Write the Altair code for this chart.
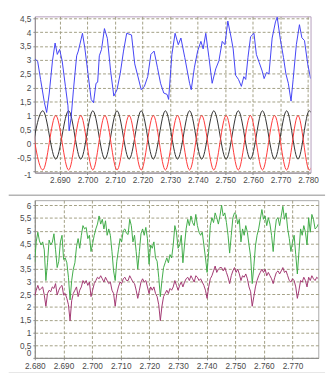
import altair as alt
import pandas as pd

# ---------------- top panel data ----------------
TOP_XTICKS = [2.69, 2.70, 2.71, 2.72, 2.73, 2.74, 2.75, 2.76, 2.77, 2.78]
TOP_YTICKS = [-1, -0.5, 0, 0.5, 1, 1.5, 2, 2.5, 3, 3.5, 4, 4.5]

BLUE_T = [2.68105, 2.68193, 2.68298, 2.68438, 2.68519, 2.68614, 2.68730, 2.68825, 2.68905, 2.68989,
          2.69081, 2.69200, 2.69291, 2.69333, 2.69404, 2.69491, 2.69607, 2.69667, 2.69818, 2.69902,
          2.70018, 2.70134, 2.70218, 2.70309, 2.70369, 2.70429, 2.70509, 2.70615, 2.70720, 2.70836,
          2.70955, 2.71071, 2.71187, 2.71306, 2.71422, 2.71597, 2.71713, 2.71833, 2.71948, 2.72064,
          2.72184, 2.72299, 2.72415, 2.72535, 2.72650, 2.72766, 2.72886, 2.72942, 2.73061, 2.73177,
          2.73293, 2.73388, 2.73528, 2.73703, 2.73763, 2.73879, 2.73995, 2.74114, 2.74195, 2.74290,
          2.74405, 2.74521, 2.74651, 2.74767, 2.74886, 2.74985, 2.75090, 2.75213, 2.75283, 2.75371,
          2.75476, 2.75581, 2.75669, 2.75739, 2.75820, 2.75915, 2.76038, 2.76125, 2.76231, 2.76336,
          2.76406, 2.76494, 2.76582, 2.76697, 2.76817, 2.76880, 2.76985, 2.77108, 2.77196, 2.77284,
          2.77382, 2.77459, 2.77575, 2.77687, 2.77775, 2.77870, 2.77986, 2.78091]
BLUE_V = [3.03, 2.95, 2.30, 1.46, 1.11, 1.81, 2.97, 3.61, 3.20, 3.38,
          2.97, 2.05, 1.35, 0.45, 0.90, 1.93, 3.15, 3.32, 3.96, 3.44,
          2.51, 1.58, 1.46, 2.16, 2.20, 3.15, 3.38, 4.13, 3.78, 2.63,
          1.70, 1.93, 2.51, 3.32, 3.96, 3.90, 2.86, 2.39, 1.93, 2.05,
          2.40, 3.20, 3.32, 2.74, 2.16, 1.81, 1.76, 1.58, 3.20, 3.96,
          3.55, 3.79, 3.09, 2.16, 1.93, 2.74, 3.32, 3.67, 3.40, 3.96,
          3.09, 2.16, 2.68, 2.97, 3.67, 3.55, 4.40, 3.79, 3.40, 2.45,
          2.30, 2.05, 2.40, 2.30, 3.09, 3.84, 3.96, 3.20, 2.90, 2.60,
          2.33, 2.55, 2.50, 3.79, 4.37, 4.54, 3.80, 3.09, 2.50, 2.16,
          1.52, 2.30, 3.55, 4.27, 3.80, 3.70, 2.86, 2.33]

# extrema of the two oscillating traces
SINE_T = [2.67940, 2.68379, 2.68849, 2.69316, 2.69755, 2.70193, 2.70632, 2.71071, 2.71510,
          2.71948, 2.72387, 2.72826, 2.73265, 2.73703, 2.74142, 2.74581, 2.75027, 2.75469,
          2.75908, 2.76346, 2.76785, 2.77224, 2.77635, 2.78045, 2.78477]
BLACK_V = [-0.57, 1.17, -0.57, 1.17, -0.57, 1.17, -0.57, 1.17, -0.57, 1.17, -0.57, 1.17, -0.57,
           1.17, -0.57, 1.17, -0.57, 1.17, -0.57, 1.17, -0.57, 1.17, -0.57, 1.17, -0.57]
RED_V = [1.0, -0.96, 1.0, -0.96, 1.0, -0.96, 1.0, -0.96, 1.0, -0.96, 1.0, -0.96, 1.0,
         -0.96, 1.0, -0.96, 1.0, -0.96, 1.0, -0.96, 1.0, -0.96, 1.0, -0.96, 1.0]

# ---------------- bottom panel data ----------------
BOT_XTICKS = [2.68, 2.69, 2.70, 2.71, 2.72, 2.73, 2.74, 2.75, 2.76, 2.77]
BOT_YTICKS = [0, 0.5, 1, 1.5, 2, 2.5, 3, 3.5, 4, 4.5, 5, 5.5, 6]
B_T0 = 2.67992      # first sample time
B_DT = 0.000563     # sampling interval

GREEN_V = [3.74, 4.56, 4.94, 4.60, 4.44, 4.56, 4.25, 3.04, 3.74, 4.63,
           4.44, 4.55, 4.88, 4.25, 3.55, 3.80, 4.56, 4.82, 3.87, 3.93,
           3.74, 3.17, 2.28, 3.04, 3.49, 3.74, 4.37, 4.69, 4.31, 4.82,
           5.20, 5.07, 5.13, 4.69, 4.82, 4.18, 4.50, 4.82, 5.07, 5.26,
           5.58, 5.26, 5.45, 5.07, 5.39, 4.82, 5.07, 4.82, 4.18, 3.42,
           3.04, 3.80, 4.25, 4.69, 4.56, 5.01, 5.07, 4.90, 4.85, 5.45,
           5.20, 4.56, 4.82, 4.18, 3.49, 4.18, 4.88, 5.07, 4.82, 5.13,
           4.69, 3.68, 4.44, 4.31, 4.56, 3.93, 3.80, 3.17, 2.41, 3.04,
           3.55, 3.74, 3.93, 3.74, 4.06, 3.93, 4.44, 5.20, 4.94, 4.31,
           4.44, 4.82, 3.74, 4.44, 5.07, 5.45, 5.20, 5.58, 5.32, 5.20,
           5.64, 5.20, 4.94, 4.82, 4.94, 4.44, 3.93, 3.36, 4.18, 5.20,
           5.51, 5.32, 5.70, 5.51, 5.26, 5.58, 6.00, 5.58, 5.70, 5.32,
           4.82, 4.12, 4.82, 5.51, 5.70, 5.64, 5.26, 5.45, 4.56, 5.07,
           4.82, 5.20, 4.94, 4.44, 3.99, 2.92, 3.60, 4.40, 4.82, 5.07,
           5.45, 5.83, 5.45, 5.58, 5.20, 5.51, 5.26, 4.82, 4.18, 4.94,
           5.45, 5.51, 5.20, 5.58, 5.96, 5.45, 5.70, 5.07, 4.69, 4.18,
           4.56, 4.82, 4.06, 3.30, 4.18, 5.07, 4.82, 5.20, 4.94, 4.44,
           5.51, 4.94, 5.64, 5.45, 5.07, 5.13, 5.26]
PURPLE_V = [2.41, 2.66, 2.85, 2.66, 2.73, 2.79, 2.47, 2.03, 2.53, 2.66,
            2.60, 2.79, 2.73, 2.92, 2.47, 2.66, 2.79, 2.85, 2.47, 2.53,
            2.34, 2.09, 1.46, 2.25, 2.53, 2.66, 2.79, 2.41, 2.66, 2.79,
            3.04, 2.92, 3.04, 2.85, 2.98, 2.41, 2.66, 2.92, 3.04, 3.17,
            3.11, 3.23, 3.11, 2.98, 3.17, 3.04, 2.92, 2.98, 2.66, 2.53,
            2.03, 2.53, 2.79, 2.98, 2.92, 3.11, 3.17, 3.04, 3.04, 3.23,
            3.11, 2.98, 2.92, 2.66, 2.34, 2.66, 2.98, 3.11, 2.98, 3.04,
            2.79, 2.53, 2.79, 2.66, 2.79, 2.53, 2.41, 2.09, 1.46, 2.03,
            2.41, 2.53, 2.66, 2.53, 2.73, 2.66, 2.79, 3.04, 2.85, 2.66,
            2.85, 2.98, 2.79, 2.98, 3.11, 3.17, 3.04, 3.23, 3.11, 2.98,
            3.23, 3.17, 3.04, 3.11, 2.98, 2.85, 2.66, 2.34, 2.79, 3.11,
            3.23, 3.42, 3.61, 3.36, 3.49, 3.55, 3.55, 3.42, 3.55, 3.36,
            3.17, 2.92, 3.23, 3.42, 3.55, 3.36, 3.49, 3.30, 3.04, 3.23,
            3.17, 3.30, 3.11, 2.79, 2.60, 2.03, 2.41, 2.79, 3.04, 3.23,
            3.36, 3.49, 3.36, 3.49, 3.23, 3.36, 3.23, 3.11, 2.92, 3.17,
            3.36, 3.42, 3.30, 3.42, 3.55, 3.36, 3.42, 3.23, 3.04, 2.98,
            3.11, 3.04, 2.79, 2.34, 2.66, 3.04, 2.98, 3.17, 3.04, 2.79,
            3.17, 3.04, 3.23, 3.11, 3.04, 3.17, 3.11]

B_TIME = [round(B_T0 + i * B_DT, 6) for i in range(len(GREEN_V))]

blue_df = pd.DataFrame({"t": BLUE_T, "v": BLUE_V})
sine_df = pd.DataFrame({"t": SINE_T, "black": BLACK_V, "red": RED_V})
bot_df = pd.DataFrame({"t": B_TIME, "green": GREEN_V, "purple": PURPLE_V})

FONT = "Liberation Sans"
GRID = "#a19e82"
LABEL = "#4a4a4a"
AXC = "#8a8a8a"
LBL_EXPR = "(datum.value < 0 ? '-' : '') + replace(format(abs(datum.value), '~g'), '.', ',')"


def y_axis(vals, ext, edge_test, edge_baseline):
    return alt.Axis(values=vals, title=None, grid=True, gridColor=GRID, gridDash=[3, 2],
                    gridWidth=1, labelExpr=LBL_EXPR, labelFont=FONT, labelFontSize=8.5,
                    labelColor=LABEL, labelPadding=2, tickSize=2, tickColor=AXC,
                    labelBaseline={"condition": {"test": edge_test, "value": edge_baseline},
                                   "value": "middle"},
                    domainColor=AXC, minExtent=ext, maxExtent=ext, labelOverlap=False)


def x_axis(vals):
    return alt.Axis(values=vals, format=".3f", title=None, grid=True, gridColor=GRID,
                    gridDash=[3, 2], gridWidth=1, labelFont=FONT, labelFontSize=8.5,
                    labelColor=LABEL, labelPadding=1.5, labelFlush=False, labelOverlap=False,
                    tickSize=2, tickColor=AXC, domainColor=AXC)


xs_top = alt.Scale(domain=[2.6809, 2.7809], nice=False, zero=False)
ys_top = alt.Scale(domain=[-1.055, 4.57], nice=False, zero=False)
xt = alt.X("t:Q", scale=xs_top, axis=x_axis(TOP_XTICKS))
yax_top = y_axis(TOP_YTICKS, 35, "datum.value == -1", "top")

black = alt.Chart(sine_df).mark_line(color="#2e2e2e", strokeWidth=1, interpolate="monotone", clip=True).encode(
    x=xt, y=alt.Y("black:Q", scale=ys_top, axis=yax_top))
red = alt.Chart(sine_df).mark_line(color="#ff3434", strokeWidth=1, interpolate="monotone", clip=True).encode(
    x=xt, y=alt.Y("red:Q", scale=ys_top, axis=yax_top))
blue = alt.Chart(blue_df).mark_line(color="#3f3ff5", strokeWidth=1, clip=True).encode(
    x=xt, y=alt.Y("v:Q", scale=ys_top, axis=yax_top))

top = alt.layer(black, red, blue).properties(
    width=285, height=161.5, view=alt.ViewBackground(stroke="#b39cbc", strokeWidth=1))

xs_bot = alt.Scale(domain=[2.680, 2.779], nice=False, zero=False)
ys_bot = alt.Scale(domain=[0, 6.2], nice=False, zero=False)
xb = alt.X("t:Q", scale=xs_bot, axis=x_axis(BOT_XTICKS))
yax_bot = y_axis(BOT_YTICKS, 27, "datum.value == 0", "bottom")

green = alt.Chart(bot_df).mark_line(color="#3daa45", strokeWidth=1, clip=True).encode(
    x=xb, y=alt.Y("green:Q", scale=ys_bot, axis=yax_bot))
purple = alt.Chart(bot_df).mark_line(color="#a0346f", strokeWidth=1, clip=True).encode(
    x=xb, y=alt.Y("purple:Q", scale=ys_bot, axis=yax_bot))

# panel separator lines of the application window (decoration only)
frame_src = pd.DataFrame({"k": [0]})
sep_top = alt.Chart(frame_src).mark_rule(color="#b4b4b4", strokeWidth=1.5).encode(
    x=alt.value(-27), x2=alt.value(300), y=alt.value(-5))
sep_bot = alt.Chart(frame_src).mark_rule(color="#cfcfcf", strokeWidth=2).encode(
    x=alt.value(-27), x2=alt.value(300), y=alt.value(179))

bottom = alt.layer(green, purple, sep_top, sep_bot).properties(
    width=293, height=163, view=alt.ViewBackground(stroke="#a8a8a8", strokeWidth=1))

chart = alt.vconcat(top, bottom, spacing=9).properties(
    padding={"left": 0, "top": 7.5, "right": 0, "bottom": 0},
    background="white",
)

chart.save("out.html", embed_options={"renderer": "svg", "actions": False})
